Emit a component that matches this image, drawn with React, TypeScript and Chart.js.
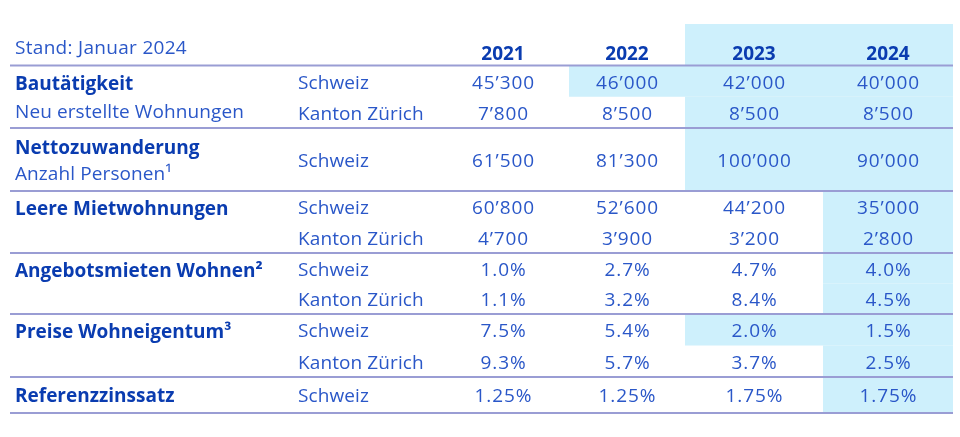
import React, { useEffect, useRef } from 'react';
import { Chart, registerables } from 'chart.js';
Chart.register(...registerables);

// ---- data ----
const standText = 'Stand: Januar 2024';
const years = ['2021', '2022', '2023', '2024'];
const topics = ['Bautätigkeit', 'Nettozuwanderung', 'Leere Mietwohnungen', 'Angebotsmieten Wohnen²', 'Preise Wohneigentum³', 'Referenzzinssatz'];
const subtitles = ['Neu erstellte Wohnungen', 'Anzahl Personen¹', '', '', '', ''];
const bauSchweiz = ['45’300', '46’000', '42’000', '40’000'];
const bauZuerich = ['7’800', '8’500', '8’500', '8’500'];
const nettoSchweiz = ['61’500', '81’300', '100’000', '90’000'];
const leerSchweiz = ['60’800', '52’600', '44’200', '35’000'];
const leerZuerich = ['4’700', '3’900', '3’200', '2’800'];
const mietenSchweiz = ['1.0%', '2.7%', '4.7%', '4.0%'];
const mietenZuerich = ['1.1%', '3.2%', '8.4%', '4.5%'];
const eigentumSchweiz = ['7.5%', '5.4%', '2.0%', '1.5%'];
const eigentumZuerich = ['9.3%', '5.7%', '3.7%', '2.5%'];
const zinsSchweiz = ['1.25%', '1.25%', '1.75%', '1.75%'];
// highlighted (shaded) cells: 1 = shaded
const headerHL = [0, 0, 1, 1];
const bauSchweizHL = [0, 1, 1, 1];
const bauZuerichHL = [0, 0, 1, 1];
const nettoSchweizHL = [0, 0, 1, 1];
const leerSchweizHL = [0, 0, 0, 1];
const leerZuerichHL = [0, 0, 0, 1];
const mietenSchweizHL = [0, 0, 0, 1];
const mietenZuerichHL = [0, 0, 0, 1];
const eigentumSchweizHL = [0, 0, 1, 1];
const eigentumZuerichHL = [0, 0, 0, 1];
const zinsSchweizHL = [0, 0, 0, 1];

const groups = [
  { lines: [{ region: 'Schweiz', values: bauSchweiz, hl: bauSchweizHL }, { region: 'Kanton Zürich', values: bauZuerich, hl: bauZuerichHL }] },
  { lines: [{ region: 'Schweiz', values: nettoSchweiz, hl: nettoSchweizHL }] },
  { lines: [{ region: 'Schweiz', values: leerSchweiz, hl: leerSchweizHL }, { region: 'Kanton Zürich', values: leerZuerich, hl: leerZuerichHL }] },
  { lines: [{ region: 'Schweiz', values: mietenSchweiz, hl: mietenSchweizHL }, { region: 'Kanton Zürich', values: mietenZuerich, hl: mietenZuerichHL }] },
  { lines: [{ region: 'Schweiz', values: eigentumSchweiz, hl: eigentumSchweizHL }, { region: 'Kanton Zürich', values: eigentumZuerich, hl: eigentumZuerichHL }] },
  { lines: [{ region: 'Schweiz', values: zinsSchweiz, hl: zinsSchweizHL }] },
];

// ---- layout (scale units) ----
const colEdges = [437, 569, 685, 823, 953];
const groupEdges = [65.5, 128, 191, 253, 314, 377, 413];
const headerTop = 24;
const tableLeft = 10;
const labelX = 15;
const regionX = 298;
const standY = 47;
const yearY = 53;
const TEXT_DY = 2;

const FONT = '"Open Sans", "Noto Sans", sans-serif';
const SIZE = 19;
const C_BOLD = '#0a3cb0';
const C_TEXT = '#2a57c8';
const C_LINE = '#9a9dd4';
const C_SHADE = '#cef0fc';

const tablePlugin = {
  id: 'tablePlugin',
  beforeDatasetsDraw(chart: any) {
    const ctx = chart.ctx;
    const xs = chart.scales.x;
    const ys = chart.scales.y;
    const X = (v: number) => xs.getPixelForValue(v);
    const Y = (v: number) => ys.getPixelForValue(v);
    ctx.save();
    ctx.fillStyle = C_SHADE;
    const shade = (c: number, top: number, bottom: number) => {
      const l = X(colEdges[c]);
      const r = X(colEdges[c + 1]);
      const t = Y(top);
      const b = Y(bottom);
      ctx.fillRect(l, t, r - l, b - t);
    };
    headerHL.forEach((h, c) => { if (h) shade(c, headerTop, groupEdges[0]); });
    groups.forEach((g, gi) => {
      const top = groupEdges[gi];
      const bottom = groupEdges[gi + 1];
      const h = (bottom - top) / g.lines.length;
      g.lines.forEach((ln, li) => {
        ln.hl.forEach((v, c) => { if (v) shade(c, top + h * li, top + h * (li + 1)); });
      });
    });
    ctx.strokeStyle = C_LINE;
    ctx.lineWidth = 2;
    groupEdges.forEach((e) => {
      ctx.beginPath();
      ctx.moveTo(X(tableLeft), Y(e));
      ctx.lineTo(X(colEdges[colEdges.length - 1]), Y(e));
      ctx.stroke();
    });
    ctx.restore();
  },
  afterDatasetsDraw(chart: any) {
    const ctx = chart.ctx;
    const xs = chart.scales.x;
    const ys = chart.scales.y;
    const X = (v: number) => xs.getPixelForValue(v);
    const Y = (v: number) => ys.getPixelForValue(v) + TEXT_DY;
    ctx.save();
    ctx.textBaseline = 'middle';
    const reg = `${SIZE}px ${FONT}`;
    const bold = `bold ${SIZE}px ${FONT}`;
    const setReg = () => { ctx.font = reg; ctx.fillStyle = C_TEXT; ctx.letterSpacing = '0.1px'; };
    const setNum = () => { ctx.font = reg; ctx.fillStyle = C_TEXT; ctx.letterSpacing = '0.9px'; };
    const setBold = () => { ctx.font = bold; ctx.fillStyle = C_BOLD; ctx.letterSpacing = '0px'; };
    setReg();
    ctx.letterSpacing = '0.3px';
    ctx.textAlign = 'left';
    ctx.fillText(standText, X(labelX), Y(standY));
    setBold();
    ctx.textAlign = 'center';
    years.forEach((yr, c) => {
      ctx.fillText(yr, X((colEdges[c] + colEdges[c + 1]) / 2), Y(yearY));
    });
    groups.forEach((g, gi) => {
      const top = groupEdges[gi];
      const bottom = groupEdges[gi + 1];
      const h = (bottom - top) / g.lines.length;
      const mid = (top + bottom) / 2;
      ctx.textAlign = 'left';
      setBold();
      const sub = subtitles[gi];
      if (g.lines.length > 1) {
        ctx.fillText(topics[gi], X(labelX), Y(top + h / 2) + 1);
        if (sub) {
          setReg();
          ctx.fillText(sub, X(labelX), Y(top + h * 1.5) - 2);
        }
      } else if (sub) {
        ctx.fillText(topics[gi], X(labelX), Y(mid - 13));
        setReg();
        ctx.fillText(sub, X(labelX), Y(mid + 13));
      } else {
        ctx.fillText(topics[gi], X(labelX), Y(mid));
      }
      g.lines.forEach((ln, li) => {
        const cy = top + h * (li + 0.5);
        setReg();
        ctx.textAlign = 'left';
        ctx.fillText(ln.region, X(regionX), Y(cy));
        setNum();
        ctx.textAlign = 'center';
        ln.values.forEach((v, c) => {
          ctx.fillText(v, X((colEdges[c] + colEdges[c + 1]) / 2) + 0.5, Y(cy));
        });
      });
    });
    ctx.restore();
  },
};

export default function App() {
  const ref = useRef<HTMLCanvasElement>(null);
  useEffect(() => {
    if (!ref.current) return;
    const chart = new Chart(ref.current, {
      type: 'scatter',
      data: { datasets: [] },
      options: {
        animation: false,
        responsive: true,
        maintainAspectRatio: false,
        layout: { padding: 0 },
        plugins: { legend: { display: false }, tooltip: { enabled: false } },
        scales: {
          x: { type: 'linear', min: 0, max: 960, display: false },
          y: { type: 'linear', min: 0, max: 437, reverse: true, display: false },
        },
      },
      plugins: [tablePlugin],
    } as any);
    return () => chart.destroy();
  }, []);
  return (
    <div style={{ position: 'fixed', left: 0, top: 0, width: 960, height: 437, background: '#ffffff' }}>
      <canvas ref={ref} />
    </div>
  );
}
